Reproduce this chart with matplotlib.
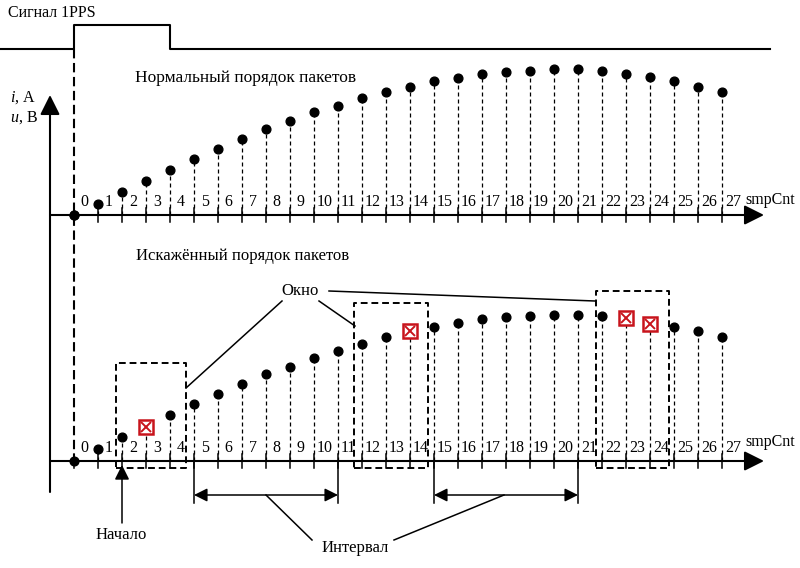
import matplotlib.pyplot as plt

plt.rcParams['font.family'] = ['Liberation Serif', 'DejaVu Serif']
plt.rcParams['mathtext.fontset'] = 'custom'
plt.rcParams['mathtext.rm'] = 'Liberation Serif'
plt.rcParams['mathtext.it'] = 'Liberation Serif:italic'

# sample counter values and amplitudes
samples = list(range(28))
normal_values = [0, 11, 23, 34, 45, 56, 66, 76, 86, 94, 103, 109, 117, 123,
                 128, 134, 137, 141, 143, 144, 146, 146, 144, 141, 138, 134, 128, 123]
distorted_values = [0, 12, 24, 34, 46, 57, 67, 77, 87, 94, 103, 110, 117, 124,
                    130, 134, 138, 142, 144, 145, 146, 146, 145, 143, 137, 134, 130, 124]
lost_samples = [3, 14, 23, 24]
windows = [(1.75, 4.67, 98), (11.67, 14.75, 158), (21.74, 24.8, 170)]
intervals = [(5, 11), (15, 21)]
start_sample = 2

X0, DX = 74, 24          # pixel of sample 0, pixels per sample
TOP_Y, BOT_Y = 215, 461  # pixel rows of the two time axes
RED = '#c8141c'

fig = plt.figure(figsize=(8, 5.68), dpi=100)
canvas = fig.add_axes([0, 0, 1, 1])
canvas.set_xlim(0, 800)
canvas.set_ylim(568, 0)
canvas.axis('off')


def panel(axis_y):
    a = fig.add_axes([0, 0, 1, 1], facecolor='none')
    a.set_xlim(-X0 / DX, (800 - X0) / DX)
    a.set_ylim(axis_y - 568, axis_y)
    a.axis('off')
    return a


def draw_samples(a, values, lost):
    for k, v in zip(samples, values):
        a.plot([k, k], [-7, 7], color='k', lw=1.1)
        if k in lost:
            a.plot([k, k], [0, v], color='k', lw=0.9, dashes=(3.2, 2.4))
            a.plot(k, v, marker='s', ms=10, mfc='white', mec=RED, mew=1.8)
            a.plot(k, v, marker='x', ms=6.5, mec=RED, mew=1.4)
        else:
            if v > 0:
                a.plot([k, k], [0, v], color='k', lw=0.9, dashes=(3.2, 2.4))
            a.plot(k, v, 'o', color='k', ms=6.3)
        a.text(k + 0.45, 13, str(k), ha='center', va='center', fontsize=11.5)


# 1PPS signal
canvas.plot([0, 74, 74, 170, 170, 770], [49, 49, 25, 25, 49, 49], color='k', lw=1.5)
canvas.text(8, 13, 'Сигнал 1PPS', fontsize=11.5, va='center')
canvas.plot([74, 74], [49, 461], color='k', lw=1.5, dashes=(4.5, 2.2))

# vertical axis
canvas.annotate('', xy=(50, 95), xytext=(50, 492),
                arrowprops=dict(arrowstyle='-|>', color='k', lw=1.5,
                                mutation_scale=30, shrinkA=0, shrinkB=0))
canvas.text(10, 98, '$i$, А', fontsize=11.5, va='center')
canvas.text(10, 118, '$u$, В', fontsize=11.5, va='center')

# horizontal axes
for y in (TOP_Y, BOT_Y):
    canvas.annotate('', xy=(764, y), xytext=(50, y),
                    arrowprops=dict(arrowstyle='-|>', color='k', lw=1.5,
                                    mutation_scale=30, shrinkA=0, shrinkB=0))
canvas.text(745, 200, 'smpCnt', fontsize=11.5, va='center')
canvas.text(745, 442, 'smpCnt', fontsize=11.5, va='center')

canvas.text(135, 78, 'Нормальный порядок пакетов', fontsize=12.5, va='center')
canvas.text(136, 256, 'Искажённый порядок пакетов', fontsize=12, va='center')

top = panel(TOP_Y)
draw_samples(top, normal_values, [])
top.plot(0, 0, 'o', color='k', ms=6.3)

bot = panel(BOT_Y)
draw_samples(bot, distorted_values, lost_samples)

# windows
for x1, x2, h in windows:
    bot.plot([x1, x2, x2, x1, x1], [-7, -7, h, h, -7], color='k', lw=1.4, dashes=(3.5, 2))

# "Окно" callout
canvas.text(300, 291, 'Окно', fontsize=12, ha='center', va='center')
canvas.plot([282, 186], [301, 388], color='k', lw=1.1)
canvas.plot([319, 355], [301, 326], color='k', lw=1.1)
canvas.plot([329, 595], [291, 301], color='k', lw=1.1)

# intervals
for s1, s2 in intervals:
    for s in (s1, s2):
        bot.plot([s, s], [0, -42], color='k', lw=1.1)
    bot.annotate('', xy=(s1, -34), xytext=(s2, -34),
                 arrowprops=dict(arrowstyle='<|-|>', color='k', lw=1.1,
                                 mutation_scale=20, shrinkA=0, shrinkB=0))
canvas.text(355, 548, 'Интервал', fontsize=12, ha='center', va='center')
canvas.plot([312, 266], [540, 495], color='k', lw=1.1)
canvas.plot([394, 504], [540, 495], color='k', lw=1.1)

# start marker
bot.annotate('', xy=(start_sample, -4), xytext=(start_sample, -62),
             arrowprops=dict(arrowstyle='-|>', color='k', lw=1.1,
                             mutation_scale=22, shrinkA=0, shrinkB=0))
canvas.text(121, 535, 'Начало', fontsize=12, ha='center', va='center')

fig.savefig('out.png', dpi=100)
